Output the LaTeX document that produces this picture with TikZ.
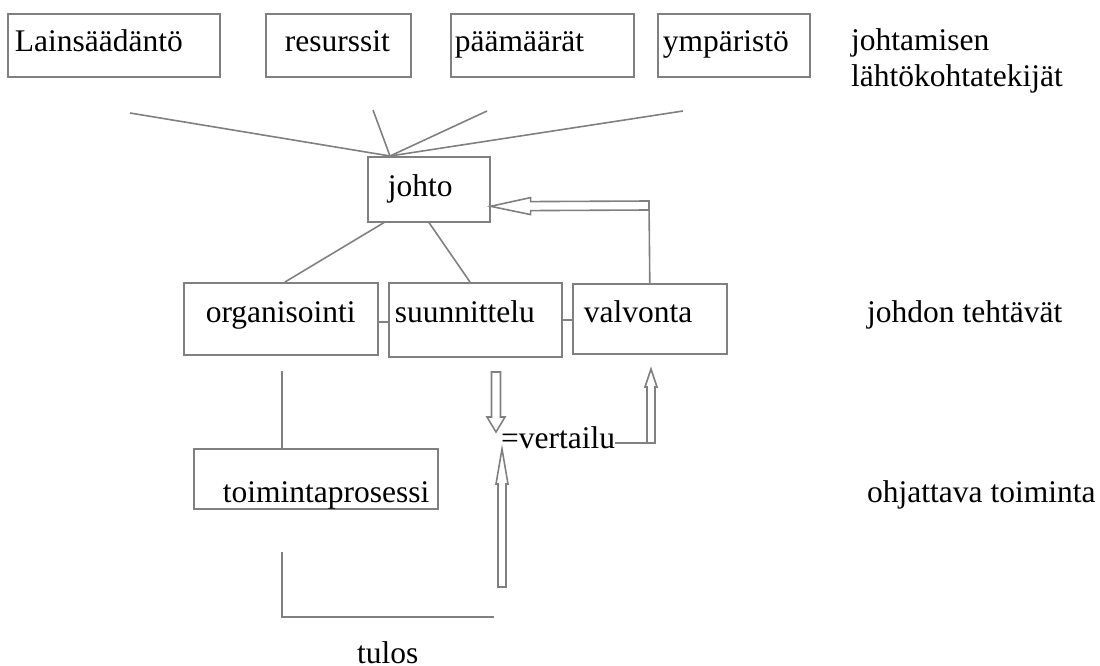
\documentclass[tikz,border=0pt]{standalone}
\usepackage{fontspec}
\setmainfont{Liberation Serif}
\usetikzlibrary{arrows.meta, positioning, calc}

\tikzset{
  tbox/.style={draw=gray, line width=1.6pt, anchor=north west, inner ysep=0pt, align=left, font=\fontsize{31.5}{36}\selectfont},
  lbl/.style={inner sep=0pt, anchor=base west, align=left, font=\fontsize{31.5}{36}\selectfont},
  conn/.style={draw=gray, line width=1.6pt},
  % #1 = head length, #2 = head half width, #3 = shaft half width
  hollow/.style n args={3}{to path={
      ($(\tikztotarget)!#1!(\tikztostart)$) coordinate (hb)
      ($(\tikztostart)!#3!90:(\tikztotarget)$)
      -- ($(hb)!#3!-90:(\tikztostart)$)
      -- ($(hb)!#2!-90:(\tikztostart)$)
      -- (\tikztotarget)
      -- ($(hb)!#2!90:(\tikztostart)$)
      -- ($(hb)!#3!90:(\tikztostart)$)
      -- ($(\tikztostart)!#3!-90:(\tikztotarget)$)
      -- cycle}},
}

\begin{document}
\begin{tikzpicture}[x=1pt, y=-1pt]

\useasboundingbox (0,0) rectangle (1100,666);

% lähtökohtatekijät
\node[tbox, text width=198pt, inner xsep=7pt, text height=38pt, text depth=25pt] (lain) at (7,13) {Lainsäädäntö};
\node[tbox, text width=107pt, inner xsep=19pt, text height=38pt, text depth=25pt] (res) at (265,13) {resurssit};
\node[tbox, text width=175pt, inner xsep=4pt, text height=38pt, text depth=25pt] (paam) at (450,13) {päämäärät};
\node[tbox, text width=142pt, inner xsep=5pt, text height=38pt, text depth=25pt] (ymp) at (657,13) {ympäristö};
\node[lbl] (lahto) at (851,87) {johtamisen\\lähtökohtatekijät};

% johto
\node[tbox, text width=82pt, inner xsep=20pt, text height=40pt, text depth=25pt] (johto) at (367,156) {johto};
\coordinate (jin) at (390,156);
\coordinate (l1) at (130,113);
\coordinate (l2) at (373,110);
\coordinate (l3) at (487,111);
\coordinate (l4) at (683,111);
\foreach \c in {l1,l2,l3,l4}
  \draw[conn] (\c) -- (jin);

% johdon tehtävät
\node[tbox, text width=150pt, inner xsep=22pt, text height=40pt, text depth=32pt] (org) at (183,282) {organisointi};
\node[tbox, text width=161pt, inner xsep=6pt, text height=40pt, text depth=34pt] (suun) at (388,282) {suunnittelu};
\node[tbox, text width=132pt, inner xsep=11pt, text height=39pt, text depth=31pt] (valv) at (572,283) {valvonta};
\node[lbl] (tehtavat) at (867,322) {johdon tehtävät};

\draw[conn] ([xshift=17pt]johto.south west) -- ([xshift=102pt]org.north west);
\draw[conn] ([xshift=62pt]johto.south west) -- ([xshift=82pt]suun.north west);
\draw[conn] ([yshift=-3pt]org.east) -- ([yshift=-3pt]org.east -| suun.west);
\draw[conn] (suun.east) -- (suun.east -| valv.west);

% takaisinkytkentä johtoon
\coordinate (vtop) at (649,201);
\coordinate (back) at (649,205.5);
\coordinate (jback) at ([yshift=-17pt]johto.east);
\draw[conn] (valv.north) -- (vtop);
\draw[conn] (back) to[hollow={40pt}{8.5pt}{4.5pt}] (jback);

% ohjattava toiminta
\node[tbox, text width=186pt, inner xsep=29pt, text height=54pt, text depth=6pt] (toim) at (193,448) {toimintaprosessi};
\node[lbl] (ohjattava) at (867,502) {ohjattava toiminta};
\coordinate (o1) at (282,371);
\draw[conn] (o1) -- (o1 |- toim.north);

% vertailu
\node[lbl] (vert) at (501,448) {=vertailu};
\coordinate (d1) at (496,372);
\coordinate (d2) at (496,432);
\draw[conn] (d1) to[hollow={15pt}{9pt}{4.5pt}] (d2);
\coordinate (cmp) at (651,443);
\coordinate (vtip) at (651,369);
\draw[conn] (cmp -| vert.east) -- (cmp);
\draw[conn] (cmp) to[hollow={18pt}{6pt}{4pt}] (vtip);

% tulos
\coordinate (u1) at (502,587);
\coordinate (u2) at (502,449);
\draw[conn] (u1) to[hollow={35pt}{6pt}{4pt}] (u2);
\coordinate (t1) at (282,552);
\coordinate (t2) at (494,617);
\draw[conn] (t1) |- (t2);
\node[lbl] (tulos) at (357,663) {tulos};

\end{tikzpicture}
\end{document}
